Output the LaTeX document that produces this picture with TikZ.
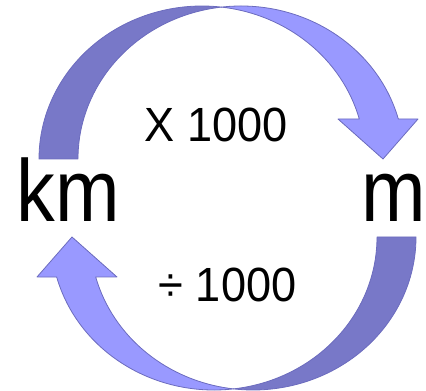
\documentclass[tikz,border=0pt]{standalone}
\usepackage{fontspec}
\setmainfont{Liberation Sans}

\definecolor{arrowdark}{RGB}{120,120,200}
\definecolor{arrowlight}{RGB}{153,153,255}
\definecolor{arrowedge}{RGB}{108,108,190}

\tikzset{
  back/.style={fill=arrowdark, draw=arrowedge, line width=0.8pt, line join=round},
  front/.style={fill=arrowlight, draw=arrowedge, line width=0.8pt, line join=round},
  unit/.style={font=\fontsize{88}{88}\selectfont, inner sep=0pt, anchor=base},
  factor/.style={font=\fontsize{48}{48}\selectfont, inner sep=0pt, anchor=base}
}

\begin{document}
\begin{tikzpicture}[x=1pt, y=1pt]

\useasboundingbox (0,0) rectangle (426,391);

% curved arrows, the lower one is the upper one turned round
\foreach \r in {0,180} {
  \begin{scope}[rotate around={\r:(227.5,193)}]
    \draw[back] (39,232)
      arc[start angle=180, end angle=83.13, x radius=163, y radius=153]
      arc[start angle=96.87, end angle=180, x radius=163, y radius=153]
      -- cycle;
    \draw[front] (221.5,383.9)
      arc[start angle=96.87, end angle=15.16, x radius=163, y radius=153]
      -- (418,272) -- (383,232) -- (338,272) -- (359.3,272)
      arc[start angle=15.16, end angle=83.13, x radius=163, y radius=153]
      -- cycle;
  \end{scope}
}

% units
\node[unit] (km) at (68,169) {\scalebox{0.88}[1]{km}};
\node[unit] (m) at (393.5,169) {\scalebox{0.88}[1]{m}};

% factors
\node[factor] (times) at (216,249) {\scalebox{0.94}[1]{X 1000}};
\node[factor] (div) at (227.5,89) {\scalebox{0.94}[1]{÷ 1000}};

\end{tikzpicture}
\end{document}
